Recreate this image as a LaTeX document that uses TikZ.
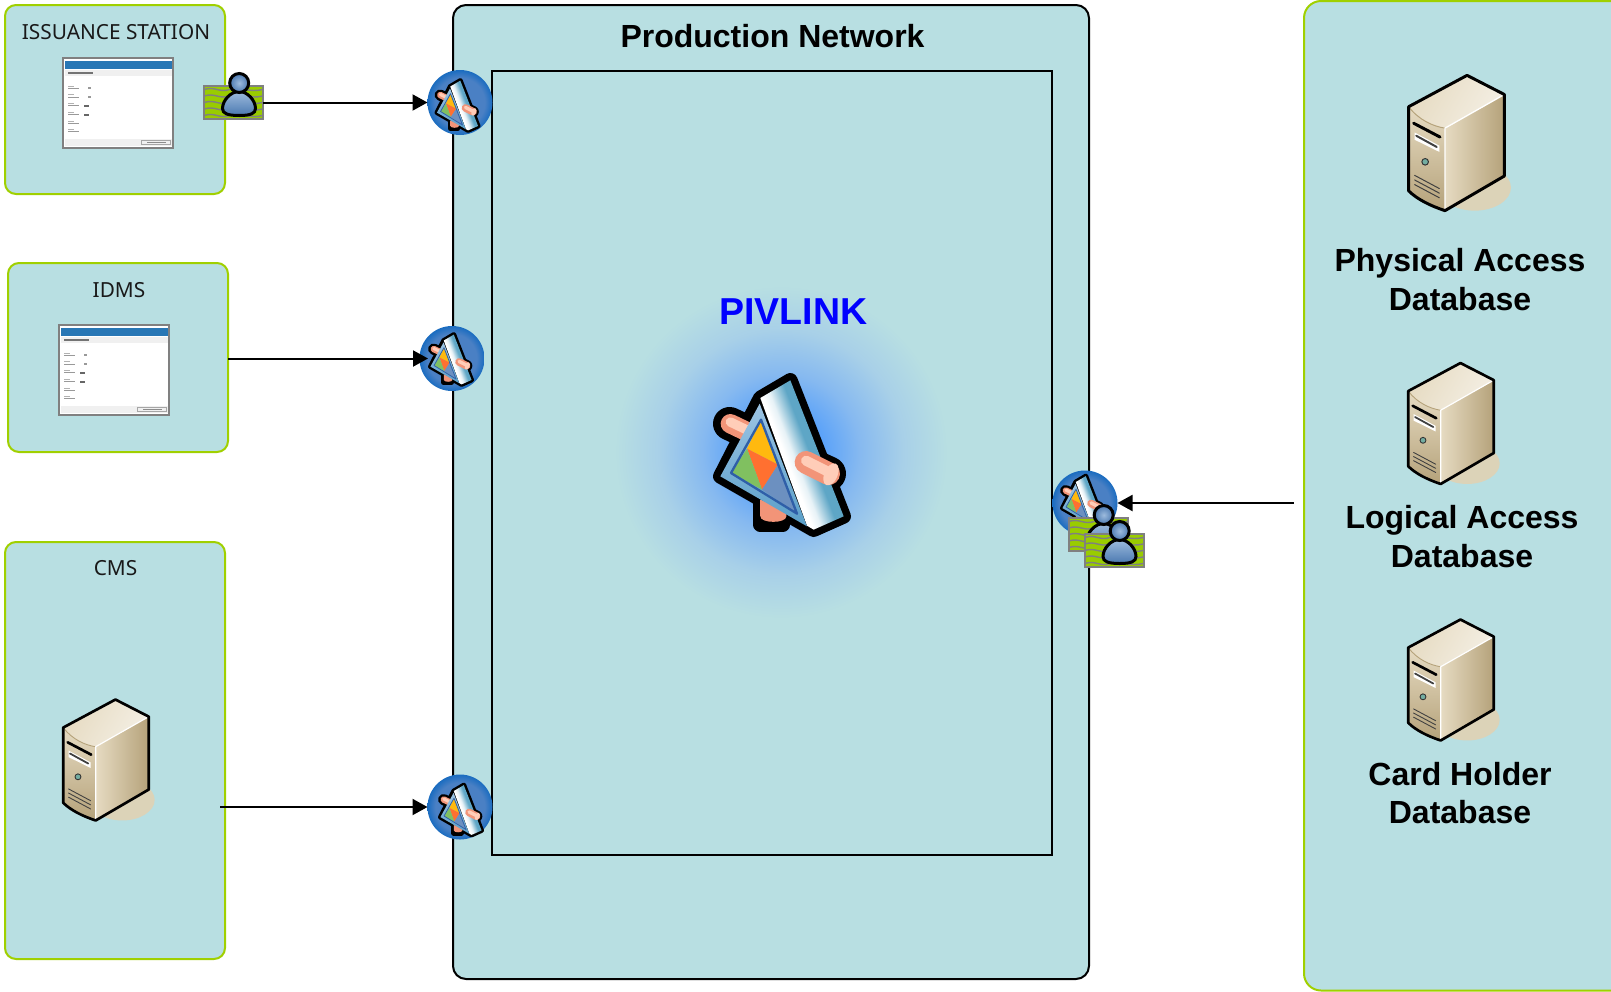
\documentclass[tikz,border=0pt]{standalone}
\usepackage{fontspec}
\setmainfont{Liberation Sans}
\newfontfamily\labelfont{Noto Sans}
\usetikzlibrary{arrows.meta}
\definecolor{panelbg}{HTML}{B8DFE2}
\definecolor{greenline}{HTML}{A0D000}
\definecolor{cardgreen}{HTML}{99CC00}
\definecolor{cardgray}{HTML}{808080}
\definecolor{halomid}{HTML}{559FFA}
\definecolor{halomid2}{HTML}{86B9F0}
\definecolor{halomid3}{HTML}{A8D0E8}
\definecolor{badgein}{HTML}{4A80C4}
\definecolor{badgeout}{HTML}{1A6CC0}
\definecolor{pink}{HTML}{F29478}
\definecolor{pinklight}{HTML}{FFCDB8}
\definecolor{steel}{HTML}{5EA6C6}
\definecolor{panellight}{HTML}{9CC4E4}
\definecolor{paneldark}{HTML}{5A9FC8}
\definecolor{tribue}{HTML}{2F5FA8}
\definecolor{triyellow}{HTML}{FFB90F}
\definecolor{triorange}{HTML}{FF7030}
\definecolor{trigreen}{HTML}{80C060}
\definecolor{tristeel}{HTML}{6C90C0}
\definecolor{srvtop}{HTML}{F4EFE4}
\definecolor{srvmid}{HTML}{E6DBC2}
\definecolor{srvdark}{HTML}{B5A27A}
\definecolor{srvshadow}{HTML}{DCD3B8}
\definecolor{personlight}{HTML}{9DBBDD}
\definecolor{persondark}{HTML}{4A78B0}
\pgfdeclareradialshading{halo}{\pgfpointorigin}{color(0bp)=(halomid); color(5.5bp)=(halomid); color(11.5bp)=(halomid2); color(18bp)=(halomid3); color(24.5bp)=(panelbg); color(50bp)=(panelbg)}
\pgfdeclareradialshading{badgeblue}{\pgfpointorigin}{color(0bp)=(badgein); color(19bp)=(badgein); color(25bp)=(badgeout); color(50bp)=(badgeout)}
\pgfdeclarehorizontalshading{wedgebody}{100bp}{color(0bp)=(white); color(42bp)=(white); color(46bp)=(white!85!steel); color(54bp)=(steel); color(100bp)=(steel)}
\tikzset{
  greenbox/.style={draw=greenline,fill=panelbg,line width=2pt,rounded corners=11pt,inner sep=0pt,outer sep=0pt,anchor=north west},
  blackbox/.style={draw=black,line width=2pt,inner sep=0pt,outer sep=0pt,anchor=north west},
  badge/.style={circle,shading=badgeblue,minimum size=65pt,inner sep=0pt,outer sep=0pt},
  idcard/.style={draw=cardgray,fill=cardgreen,line width=2pt,minimum width=59pt,minimum height=33pt,inner sep=0pt,outer sep=0pt},
  flow/.style={draw=black,line width=2pt,-{Triangle[length=15pt,width=16pt]}},
  smalltitle/.style={font=\labelfont\fontsize{20.8}{24}\selectfont,text=black!90,inner sep=0pt},
  boldtitle/.style={font=\fontsize{32}{38.6}\selectfont\bfseries,align=center,inner sep=0pt},
}
% gear (PIVLINK) icon, drawn in the reference's zoom pixels
\newcommand{\gearicon}[3]{%
\begin{scope}[shift={(#1,#2)},x=#3pt,y=-#3pt,shift={(-425,-465)},line cap=round,line join=round]
  \draw[black,line width={#3*100pt}] (268,362) -- (345,398);
  \draw[black,line width={#3*104pt}] (495,480) -- (565,512);
  \draw[black,line width={#3*42pt}] (360,600) rectangle (428,665);
  \draw[black,line width={#3*44pt},fill=black] (360,285) -- (450,232) -- (610,640) -- (520,680) -- (240,520) -- cycle;
  \draw[pink,line width={#3*58pt}] (270,362) -- (345,398);
  \draw[pinklight,line width={#3*28pt}] (270,357) -- (345,393);
  \shade[left color=pink,middle color=pinklight,right color=pink] (360,590) -- (438,620) -- (438,640) .. controls (438,662) and (360,662) .. (360,640) -- cycle;
  \shade[shading=wedgebody,shading angle=21] (360,285) -- (450,232) -- (610,640) -- (520,680) -- (500,668) -- cycle;
  \shade[top color=panellight,bottom color=paneldark] (358,302) -- (240,520) -- (500,670) -- cycle;
  \fill[triyellow] (362,350) -- (320,437) -- (413,485) -- cycle;
  \fill[triorange] (320,437) -- (413,485) -- (365,560) -- cycle;
  \fill[trigreen] (320,437) -- (365,560) -- (272,510) -- cycle;
  \fill[tristeel] (413,485) -- (470,632) -- (365,560) -- cycle;
  \draw[tribue,line width={#3*7pt}] (362,350) -- (272,510) -- (470,632) -- cycle;
  \draw[pink,line width={#3*68pt}] (497,478) -- (565,512);
  \draw[pinklight,line width={#3*30pt}] (497,473) -- (565,507);
  \fill[pinklight] (572,514) ellipse [x radius=20,y radius=35,rotate=-24];
\end{scope}}
% person in front of an id card; origin is the card's centre
\newcommand{\personicon}[2]{%
\begin{scope}[shift={(#1,#2)}]
  \foreach \yy in {-13,-6.5,0,6.5,13}
    \draw[cardgray,line width=1.4pt] (-29,\yy) .. controls (-19,\yy-3.5) and (-14,\yy+3.5) .. (-4,\yy) .. controls (6,\yy-3.5) and (16,\yy+3.5) .. (29,\yy);
  \draw[cardgray,line width=2pt] (-29.5,-16.5) rectangle (29.5,16.5);
  \shade[top color=personlight,bottom color=persondark,draw=black,line width=3pt]
    (5.7,-11) .. controls (-3,-11) and (-11,-2) .. (-11,6) .. controls (-11,11) and (-6,13) .. (5.7,13) .. controls (17,13) and (22,11) .. (22,6) .. controls (22,-2) and (14,-11) .. (5.7,-11) -- cycle;
  \shade[inner color=personlight,outer color=persondark,draw=black,line width=3pt] (5.7,-19.5) circle [radius=9.5];
\end{scope}}
% tower server, in zoom pixels, scale #3
\newcommand{\servericon}[3]{%
\begin{scope}[shift={(#1,#2)},x=#3pt,y=-#3pt,shift={(-230,-250)},line join=round,line cap=round]
  \fill[srvshadow] (285,385) ellipse [x radius=110,y radius=70];
  \shade[left color=srvmid,middle color=srvmid,right color=srvdark] (195,205) -- (375,103) -- (375,350) -- (195,455) -- cycle;
  \shade[top color=srvmid,bottom color=srvdark] (85,140) .. controls (115,180) and (160,200) .. (195,205) -- (195,455) .. controls (150,440) and (110,420) .. (85,395) -- cycle;
  \shade[left color=srvmid,right color=srvtop,shading angle=60] (85,140) -- (262,45) -- (375,103) -- (195,205) .. controls (160,200) and (115,180) .. (85,140) -- cycle;
  \draw[srvdark,line width={#3*3pt}] (85,140) .. controls (115,180) and (160,200) .. (195,205);
  \draw[white,line width={#3*4pt}] (375,103) -- (195,205) -- (195,455);
  \draw[black,line width={#3*9pt}] (100,190) -- (180,232);
  \fill[white] (103,218) -- (178,258) -- (178,277) -- (103,240) -- cycle;
  \draw[black!75,line width={#3*6pt}] (108,228) -- (170,262);
  \draw[black!80,line width={#3*3pt},fill=teal!50!srvmid] (135,307) circle [radius=10];
  \foreach \yy in {0,14,28}
    \draw[black!75,line width={#3*3pt}] (103,348+\yy) -- (178,388+\yy);
  \draw[black,line width={#3*9pt}] (85,140) -- (262,45) -- (375,103) -- (375,350) -- (195,455) .. controls (150,440) and (110,420) .. (85,395) -- cycle;
\end{scope}}
% application screenshot thumbnail; origin is its top-left corner
\newcommand{\screenicon}[2]{%
\begin{scope}[shift={(#1,#2)},x=0.344pt,y=-0.338pt,shift={(-40,-28)}]
  \fill[white] (40,28) rectangle (360,293);
  \fill[tribue!85!cyan] (48,38) rectangle (358,62);
  \fill[black!6] (48,64) rectangle (358,82);
  \fill[black!55] (55,70) rectangle (128,76);
  \foreach \yy in {110,135,160,187,213,238} {
    \fill[black!30] (55,\yy) rectangle (72,\yy+3);
    \fill[black!40] (55,\yy+7) rectangle (88,\yy+10);
  }
  \fill[black!40] (115,114) rectangle (124,121);
  \fill[black!40] (115,139) rectangle (124,146);
  \fill[black!60] (103,167) rectangle (118,174);
  \fill[black!60] (103,193) rectangle (118,200);
  \fill[black!6] (48,268) rectangle (358,287);
  \draw[black!35,line width=0.5pt] (270,270) rectangle (352,284);
  \fill[black!45] (285,276) rectangle (340,279);
  \draw[cardgray,line width=2pt] (40,28) rectangle (360,293);
\end{scope}}
\begin{document}
\begin{tikzpicture}[x=1pt,y=-1pt]
  \useasboundingbox (0,0) rectangle (1611,991);
  \clip (0,0) rectangle (1611,991);
  % panels
  \node[greenbox,minimum width=220pt,minimum height=189pt] (issuance) at (5,5) {};
  \node[greenbox,minimum width=220pt,minimum height=189pt] (idms) at (8,263) {};
  \node[greenbox,minimum width=220pt,minimum height=417pt] (cms) at (5,542) {};
  \node[blackbox,fill=panelbg,rounded corners=13pt,minimum width=636pt,minimum height=974pt] (production) at (453,5) {};
  \node[blackbox,minimum width=560pt,minimum height=784pt] (pivbox) at (492,71) {};
  \node[greenbox,rounded corners=17pt,minimum width=340pt,minimum height=989.5pt] (dbpanel) at (1304,1) {};
  % panel titles
  \node[smalltitle] (issuancelabel) at (116,32) {ISSUANCE STATION};
  \node[smalltitle] (idmslabel) at (119,290) {IDMS};
  \node[smalltitle] (cmslabel) at (115.5,568.5) {CMS};
  \node[boldtitle] (prodlabel) at (772.5,36) {Production Network};
  \node[boldtitle] (physlabel) at (1460,279.5) {Physical Access\\Database};
  \node[boldtitle] (logilabel) at (1462,536.5) {Logical Access\\Database};
  \node[boldtitle] (cardlabel) at (1460,793) {Card Holder\\Database};
  % PIVLINK centre
  \shade[shading=halo] (781,452) circle [radius=170];
  \node[boldtitle,text=blue,font=\fontsize{37.5}{44}\selectfont\bfseries] (pivlabel) at (793.5,311.5) {PIVLINK};
  \gearicon{782}{458}{0.3333}
  % screens and servers
  \screenicon{62.5}{58}
  \screenicon{58.5}{325}
  \servericon{106}{760}{0.295}
  \servericon{1456.5}{143}{0.33}
  \servericon{1451}{423.5}{0.295}
  \servericon{1451}{680}{0.295}
  % badges
  \node[badge] (badge1) at (460,102.5) {};
  \node[badge] (badge2) at (452,358.5) {};
  \node[badge] (badge3) at (460,807) {};
  \node[badge] (badge4) at (1085,503) {};
  \gearicon{457.5}{106.5}{0.1111}
  \gearicon{451}{360.5}{0.1111}
  \gearicon{461}{811}{0.1111}
  \gearicon{1083}{502}{0.1111}
  % id cards with persons
  \node[idcard] (card1) at (233.5,102.5) {};
  \personicon{233.5}{102.5}
  \node[idcard] (card2) at (1098,534.5) {};
  \personicon{1098}{534.5}
  \node[idcard] (card3) at (1114,550.5) {};
  \personicon{1114}{550.5}
  % connectors
  \coordinate (cmsout) at (220,807);
  \coordinate (badge2in) at (428,358.5);
  \coordinate (dbout) at (1293.5,503);
  \draw[flow] (card1.east) -- (badge1.west);
  \draw[flow] (idms.east |- badge2in) -- (badge2in);
  \draw[flow] (cmsout) -- (badge3.west);
  \draw[flow] (dbout) -- (badge4.east);
\end{tikzpicture}
\end{document}
